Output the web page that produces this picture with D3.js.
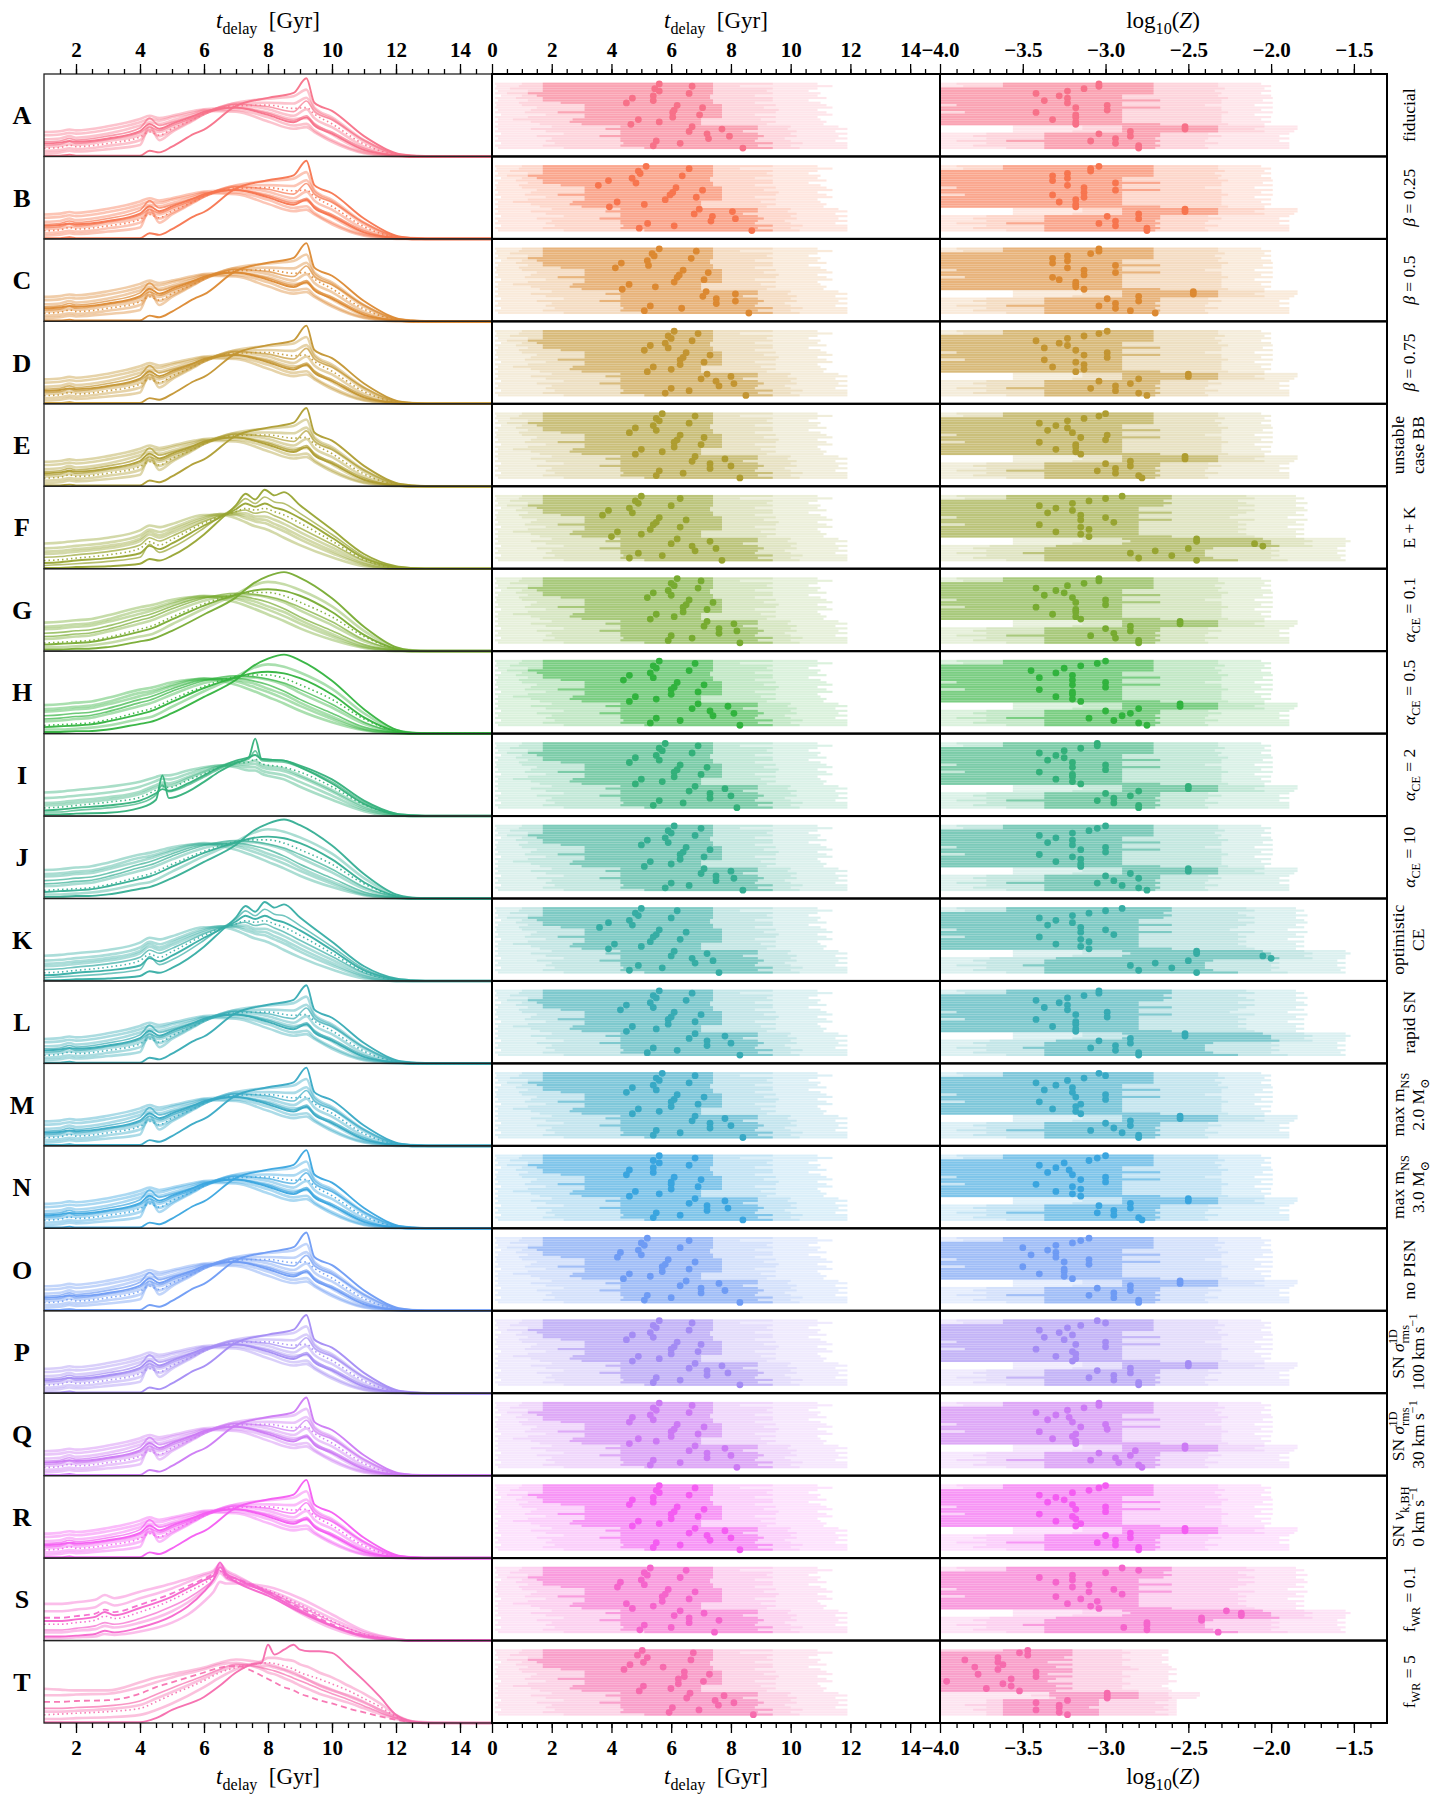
<!DOCTYPE html>
<html lang="en">
<head>
<meta charset="UTF-8" />
<title>Delay times and metallicities per model</title>
<script src="https://d3js.org/d3.v7.min.js"></script>
<style>
  body { margin: 0; background: #fff; }
  svg text { font-family: "Liberation Serif", "DejaVu Serif", serif; fill: #000; }
  .tick text { font-weight: bold; font-size: 21px; }
  .tick line { stroke: #000; stroke-width: 1.3; }
</style>
</head>
<body>
<svg width="1440" height="1800"></svg>
<script>
// ---------- data ----------
var rowKeys = ["A","B","C","D","E","F","G","H","I","J","K","L","M","N","O","P","Q","R","S","T"];

var rowLabels = [
  [[["fiducial"]]],
  [[["β","i"],[" = 0.25"]]],
  [[["β","i"],[" = 0.5"]]],
  [[["β","i"],[" = 0.75"]]],
  [[["unstable"]],[["case BB"]]],
  [[["E + K"]]],
  [[["α","i"],["CE","sub"],[" = 0.1"]]],
  [[["α","i"],["CE","sub"],[" = 0.5"]]],
  [[["α","i"],["CE","sub"],[" = 2"]]],
  [[["α","i"],["CE","sub"],[" = 10"]]],
  [[["optimistic"]],[["CE"]]],
  [[["rapid SN"]]],
  [[["max m"],["NS","sub"]],[["2.0 M"],["⊙","sub"]]],
  [[["max m"],["NS","sub"]],[["3.0 M"],["⊙","sub"]]],
  [[["no PISN"]]],
  [[["SN "],["σ","i"],["rms","sub"],["1D","sup"]],[["100 km s"],["−1","sup"]]],
  [[["SN "],["σ","i"],["rms","sub"],["1D","sup"]],[["30 km s"],["−1","sup"]]],
  [[["SN "],["v","i"],["k,BH","sub"]],[["0 km s"],["−1","sup"]]],
  [[["f"],["WR","sub"],[" = 0.1"]]],
  [[["f"],["WR","sub"],[" = 5"]]]
];

// tick labels
var tdelayTicksLeft = [2, 4, 6, 8, 10, 12, 14];
var tdelayTicksMid = [0, 2, 4, 6, 8, 10, 12, 14];
var logZTicks = [-4.0, -3.5, -3.0, -2.5, -2.0, -1.5];

// left panel: normalised delay-time distributions (shape families)
var peakTimes = [1, 1.5, 1.8, 2, 3, 4, 4.3, 4.6, 5, 5.7, 6, 7, 8, 8.8, 9.2, 9.45, 10, 11, 12, 12.5, 13, 15];
var peakCurves = [
  [0.01,0.01,0.02,0.01,0.01,0.01,0.07,0.05,0.12,0.28,0.33,0.62,0.72,0.78,0.96,0.66,0.56,0.25,0.04,0.01,0,0],
  [0.30,0.31,0.33,0.32,0.37,0.46,0.50,0.47,0.50,0.56,0.58,0.60,0.54,0.46,0.47,0.40,0.27,0.07,0.01,0,0,0],
  [0.26,0.27,0.29,0.28,0.33,0.42,0.46,0.44,0.48,0.54,0.57,0.57,0.48,0.38,0.40,0.32,0.20,0.05,0.01,0,0,0],
  [0.18,0.19,0.22,0.20,0.25,0.35,0.47,0.38,0.42,0.50,0.54,0.64,0.61,0.55,0.68,0.55,0.45,0.20,0.03,0.01,0,0],
  [0.10,0.11,0.14,0.12,0.16,0.24,0.30,0.26,0.34,0.46,0.52,0.62,0.63,0.59,0.60,0.52,0.40,0.15,0.02,0,0,0],
  [0.04,0.05,0.07,0.06,0.09,0.14,0.38,0.20,0.30,0.45,0.52,0.66,0.71,0.74,0.82,0.60,0.48,0.20,0.03,0.01,0,0],
  [0.14,0.15,0.18,0.16,0.21,0.29,0.36,0.32,0.38,0.48,0.53,0.60,0.53,0.44,0.50,0.40,0.30,0.10,0.01,0,0,0],
  [0.21,0.22,0.25,0.23,0.28,0.38,0.42,0.40,0.44,0.52,0.56,0.55,0.43,0.34,0.36,0.30,0.18,0.04,0,0,0,0],
  [0.12,0.13,0.15,0.14,0.19,0.26,0.33,0.30,0.36,0.47,0.52,0.63,0.58,0.50,0.58,0.47,0.36,0.12,0.02,0,0,0],
  [0.16,0.17,0.19,0.18,0.22,0.31,0.40,0.34,0.40,0.50,0.55,0.60,0.51,0.42,0.48,0.38,0.28,0.08,0.01,0,0,0],
  [0.07,0.08,0.10,0.09,0.13,0.20,0.32,0.25,0.32,0.46,0.52,0.65,0.66,0.65,0.72,0.58,0.46,0.18,0.02,0,0,0]
];
var smoothTimes = [1, 1.5, 2, 2.4, 3, 4, 4.3, 5, 6, 7, 7.5, 8, 8.5, 9, 10, 11, 12, 12.5, 13, 15];
var smoothCurves = [
  [0.02,0.02,0.03,0.03,0.05,0.12,0.14,0.25,0.45,0.66,0.82,0.92,0.97,0.90,0.65,0.30,0.05,0.01,0,0],
  [0.05,0.05,0.06,0.07,0.10,0.18,0.20,0.33,0.52,0.70,0.80,0.85,0.82,0.75,0.55,0.25,0.04,0.01,0,0],
  [0.10,0.11,0.12,0.13,0.17,0.27,0.30,0.42,0.58,0.70,0.72,0.72,0.68,0.60,0.42,0.18,0.03,0,0,0],
  [0.15,0.16,0.18,0.19,0.24,0.34,0.37,0.48,0.62,0.69,0.69,0.66,0.60,0.50,0.32,0.12,0.02,0,0,0],
  [0.22,0.23,0.25,0.26,0.31,0.42,0.45,0.55,0.66,0.68,0.65,0.60,0.52,0.42,0.25,0.08,0.01,0,0,0],
  [0.30,0.31,0.33,0.34,0.39,0.50,0.52,0.60,0.68,0.64,0.58,0.51,0.43,0.34,0.18,0.05,0.01,0,0,0],
  [0.35,0.36,0.38,0.39,0.44,0.54,0.56,0.63,0.67,0.60,0.53,0.45,0.37,0.28,0.14,0.04,0,0,0,0],
  [0.18,0.19,0.21,0.22,0.27,0.38,0.41,0.52,0.65,0.71,0.70,0.67,0.62,0.54,0.36,0.14,0.02,0,0,0],
  [0.08,0.09,0.10,0.11,0.15,0.24,0.27,0.39,0.56,0.69,0.74,0.76,0.74,0.68,0.48,0.20,0.03,0,0,0],
  [0.27,0.28,0.30,0.31,0.36,0.46,0.49,0.58,0.67,0.66,0.62,0.55,0.48,0.38,0.21,0.06,0.01,0,0,0]
];
var bumpTimes = [1, 1.5, 2, 3, 4, 4.3, 4.6, 5, 6, 6.5, 7, 7.3, 7.6, 7.9, 8.2, 8.5, 9, 10, 11, 12, 12.5, 13, 15];
var bumpCurves = [
  [0.01,0.01,0.02,0.03,0.06,0.12,0.10,0.16,0.42,0.60,0.78,0.92,0.85,0.97,0.90,0.94,0.78,0.48,0.18,0.03,0.01,0,0],
  [0.04,0.05,0.06,0.09,0.14,0.30,0.20,0.26,0.50,0.64,0.76,0.86,0.80,0.88,0.82,0.80,0.68,0.42,0.15,0.02,0,0,0],
  [0.10,0.11,0.13,0.17,0.25,0.33,0.29,0.36,0.56,0.64,0.70,0.74,0.72,0.74,0.70,0.66,0.56,0.34,0.11,0.01,0,0,0],
  [0.18,0.19,0.21,0.25,0.34,0.42,0.38,0.44,0.60,0.66,0.68,0.68,0.64,0.64,0.60,0.55,0.45,0.26,0.08,0.01,0,0,0],
  [0.25,0.26,0.28,0.32,0.41,0.48,0.45,0.50,0.64,0.67,0.66,0.62,0.58,0.56,0.51,0.46,0.36,0.19,0.05,0,0,0,0],
  [0.31,0.32,0.34,0.38,0.47,0.53,0.51,0.55,0.66,0.66,0.62,0.57,0.52,0.49,0.44,0.38,0.29,0.14,0.03,0,0,0,0],
  [0.14,0.15,0.17,0.21,0.29,0.38,0.34,0.40,0.58,0.65,0.70,0.72,0.68,0.70,0.65,0.60,0.50,0.30,0.10,0.01,0,0,0],
  [0.07,0.08,0.10,0.13,0.19,0.28,0.24,0.31,0.53,0.63,0.73,0.80,0.76,0.80,0.75,0.72,0.62,0.38,0.13,0.02,0,0,0],
  [0.21,0.22,0.24,0.28,0.37,0.45,0.41,0.47,0.62,0.67,0.67,0.65,0.61,0.60,0.55,0.50,0.40,0.22,0.06,0,0,0,0]
];
var spikeTimes = [1, 1.5, 2, 3, 4, 4.5, 4.7, 4.9, 5.5, 6, 6.5, 7, 7.4, 7.6, 7.8, 8.5, 9, 10, 11, 12, 12.5, 13, 15];
var spikeCurves = [
  [0.02,0.02,0.03,0.04,0.10,0.20,0.50,0.22,0.30,0.42,0.55,0.65,0.72,0.95,0.70,0.68,0.60,0.40,0.15,0.02,0,0,0],
  [0.05,0.05,0.07,0.10,0.16,0.26,0.38,0.30,0.38,0.48,0.58,0.66,0.70,0.80,0.68,0.66,0.60,0.42,0.17,0.03,0.01,0,0],
  [0.10,0.11,0.13,0.17,0.23,0.32,0.36,0.35,0.44,0.52,0.60,0.65,0.66,0.70,0.64,0.60,0.54,0.36,0.14,0.02,0,0,0],
  [0.16,0.17,0.19,0.23,0.30,0.38,0.41,0.40,0.48,0.55,0.61,0.64,0.63,0.64,0.60,0.55,0.48,0.30,0.10,0.01,0,0,0],
  [0.22,0.23,0.25,0.29,0.36,0.43,0.46,0.45,0.52,0.58,0.62,0.62,0.60,0.60,0.56,0.50,0.42,0.25,0.08,0.01,0,0,0],
  [0.29,0.30,0.32,0.36,0.42,0.48,0.50,0.50,0.56,0.60,0.62,0.60,0.56,0.56,0.52,0.45,0.36,0.20,0.06,0,0,0,0],
  [0.07,0.08,0.10,0.13,0.19,0.28,0.33,0.31,0.40,0.50,0.60,0.68,0.72,0.75,0.70,0.68,0.62,0.45,0.19,0.03,0.01,0,0],
  [0.13,0.14,0.16,0.20,0.27,0.35,0.38,0.37,0.46,0.54,0.61,0.66,0.66,0.68,0.63,0.58,0.50,0.32,0.12,0.02,0,0,0]
];
var earlyTimes = [1, 1.5, 2, 2.6, 2.9, 3.2, 4, 5, 5.5, 6, 6.3, 6.5, 6.7, 7, 8, 9, 10, 11, 12, 12.5, 13, 15];
var earlyCurves = [
  [0.05,0.05,0.06,0.08,0.12,0.10,0.16,0.30,0.42,0.60,0.75,0.90,0.80,0.72,0.55,0.35,0.18,0.06,0.01,0,0,0],
  [0.45,0.45,0.47,0.50,0.56,0.52,0.60,0.70,0.76,0.82,0.86,0.94,0.86,0.80,0.58,0.34,0.15,0.04,0.01,0,0,0],
  [0.36,0.36,0.38,0.41,0.47,0.43,0.52,0.64,0.72,0.80,0.84,0.92,0.84,0.78,0.60,0.38,0.18,0.05,0.01,0,0,0],
  [0.28,0.28,0.30,0.33,0.38,0.35,0.44,0.58,0.67,0.76,0.82,0.88,0.80,0.76,0.60,0.40,0.20,0.06,0.01,0,0,0],
  [0.20,0.20,0.22,0.25,0.30,0.27,0.35,0.50,0.60,0.70,0.78,0.85,0.78,0.74,0.62,0.44,0.24,0.08,0.01,0,0,0],
  [0.13,0.13,0.15,0.18,0.22,0.20,0.27,0.42,0.52,0.65,0.75,0.86,0.77,0.72,0.60,0.42,0.23,0.08,0.01,0,0,0],
  [0.24,0.24,0.26,0.29,0.35,0.31,0.40,0.54,0.64,0.74,0.80,0.96,0.82,0.76,0.58,0.37,0.18,0.05,0.01,0,0,0],
  [0.10,0.10,0.12,0.14,0.18,0.16,0.22,0.36,0.47,0.62,0.72,0.83,0.76,0.72,0.62,0.46,0.27,0.10,0.02,0,0,0],
  [0.03,0.03,0.04,0.05,0.08,0.07,0.11,0.22,0.32,0.48,0.60,0.72,0.70,0.70,0.66,0.52,0.32,0.12,0.02,0,0,0]
];
var broadTimes = [1, 1.5, 2, 3, 4, 4.5, 5, 6, 6.5, 7, 7.5, 7.8, 8, 8.2, 8.5, 8.8, 9, 9.3, 9.6, 10, 10.5, 11, 11.5, 12, 12.5, 13, 15];
var broadCurves = [
  [0.01,0.01,0.01,0.01,0.01,0.06,0.16,0.32,0.46,0.62,0.72,0.74,0.96,0.84,0.90,0.96,0.90,0.88,0.88,0.86,0.70,0.52,0.32,0.10,0.02,0,0],
  [0.42,0.41,0.40,0.40,0.50,0.56,0.60,0.68,0.74,0.78,0.76,0.74,0.72,0.70,0.66,0.62,0.58,0.52,0.46,0.40,0.34,0.26,0.16,0.08,0.02,0.01,0],
  [0.26,0.26,0.27,0.28,0.36,0.44,0.50,0.62,0.68,0.70,0.64,0.58,0.54,0.50,0.44,0.40,0.36,0.32,0.28,0.24,0.18,0.13,0.08,0.04,0.01,0,0],
  [0.10,0.11,0.12,0.14,0.18,0.26,0.35,0.52,0.62,0.68,0.72,0.73,0.74,0.73,0.70,0.66,0.62,0.58,0.54,0.48,0.40,0.30,0.20,0.08,0.02,0,0],
  [0.34,0.34,0.35,0.36,0.44,0.50,0.56,0.66,0.72,0.74,0.70,0.66,0.62,0.60,0.55,0.50,0.46,0.41,0.36,0.31,0.25,0.18,0.11,0.05,0.01,0,0],
  [0.18,0.18,0.19,0.21,0.27,0.35,0.43,0.58,0.66,0.72,0.70,0.68,0.66,0.64,0.60,0.55,0.52,0.47,0.42,0.36,0.29,0.21,0.13,0.06,0.01,0,0],
  [0.05,0.05,0.06,0.07,0.10,0.16,0.24,0.44,0.56,0.66,0.72,0.76,0.80,0.80,0.78,0.76,0.72,0.68,0.62,0.56,0.46,0.36,0.24,0.10,0.02,0,0],
  [0.14,0.14,0.15,0.17,0.22,0.30,0.38,0.55,0.64,0.70,0.72,0.70,0.70,0.68,0.65,0.60,0.57,0.52,0.47,0.41,0.33,0.25,0.16,0.07,0.01,0,0]
];
var rowCurveSet = ["peak","peak","peak","peak","peak","bump","smooth","smooth","spike","smooth",
                   "bump","peak","peak","peak","peak","peak","peak","peak","early","broad"];

// middle panel: per strip [outer lo, mid lo, inner lo, inner hi, mid hi, outer hi] in Gyr
var tdelayBands = [
  [0.1,1.0,1.7,7.4,9.4,10.9],[0.15,0.9,1.7,7.4,8.3,11.4],[0.1,0.6,1.7,7.4,9.4,10.9],[0.2,1.2,1.7,7.4,9.2,10.6],
  [0.1,0.5,1.2,7.4,9.4,11.0],[0.3,1.0,1.5,7.3,8.8,10.9],[0.1,0.8,1.7,7.3,9.4,11.2],[0.2,1.2,1.7,7.4,9.4,10.6],
  [0.1,0.9,2.3,7.4,8.8,11.0],[0.15,1.0,3.1,7.7,9.5,11.2],[0.1,1.5,3.1,7.7,9.1,11.4],[0.2,1.3,3.1,7.7,9.6,10.9],
  [0.1,1.1,2.2,7.7,9.5,11.2],[0.3,1.8,3.1,7.7,8.8,11.4],[0.1,1.2,3.1,7.7,9.5,10.9],[0.2,0.7,2.7,7.0,9.0,11.0],
  [0.1,1.3,2.6,7.0,9.5,11.2],[0.2,1.6,3.0,7.0,9.2,11.1],[0.1,2.0,4.3,8.9,10.0,11.6],[0.2,1.3,3.8,8.9,9.9,11.9],
  [0.1,1.8,4.3,8.4,10.2,11.5],[0.3,2.4,4.3,8.9,10.0,11.9],[0.1,1.5,3.6,9.1,10.2,11.6],[0.2,2.0,4.3,8.9,9.8,11.9],
  [0.1,1.8,4.3,8.8,10.0,11.5],[0.3,2.1,4.4,9.4,10.4,11.9],[0.1,1.7,4.3,8.9,10.0,11.9],[0.2,2.4,5.1,9.4,10.3,11.9]
];
// medians of t_delay (dots), one list per row
var tdelayMedians = [
  [5.6,6.7,5.45,5.6,6.6,5.4,4.7,5.4,4.5,6.2,7.05,6.1,6.05,6.95,6.05,4.9,5.6,4.65,6.7,7.7,6.6,7.2,7.95,7.25,5.5,6.3,5.4,8.4],
  [5.16,6.6,4.9,4.96,6.37,4.69,3.9,4.82,3.56,6.16,7.05,6.05,5.96,6.84,5.8,4.19,5.1,3.93,6.94,8.05,6.77,7.38,8.15,7.33,5.21,6.1,4.93,8.7],
  [5.6,6.84,5.36,5.43,6.67,5.2,4.33,5.24,4.13,6.4,7.24,6.27,6.2,7.1,6.1,4.59,5.47,4.36,7.17,8.15,7.06,7.51,8.15,7.51,5.3,6.35,5.1,8.6],
  [6.1,6.9,5.9,6.0,6.7,5.8,5.3,5.9,5.1,6.5,7.3,6.4,6.3,7.1,6.3,5.4,6.0,5.2,7.2,8.0,7.0,7.5,8.1,7.6,6.0,6.6,5.8,8.5],
  [5.7,6.8,5.5,5.6,6.6,5.4,4.8,5.5,4.6,6.3,7.1,6.2,6.1,7.0,6.1,5.0,5.7,4.8,6.8,7.8,6.7,7.3,8.0,7.3,5.6,6.4,5.5,8.3],
  [5.0,6.3,4.8,4.9,6.0,4.6,3.9,4.7,3.7,5.6,6.5,5.5,5.4,6.3,5.3,4.2,5.0,4.0,6.2,7.3,6.0,6.7,7.5,6.8,4.9,5.7,4.6,7.7],
  [6.2,7.0,6.0,6.1,6.9,5.9,5.4,6.0,5.2,6.6,7.4,6.5,6.4,7.2,6.4,5.5,6.1,5.3,7.2,8.1,7.1,7.6,8.2,7.6,6.0,6.7,5.9,8.3],
  [5.6,6.8,5.4,5.5,6.6,5.3,4.6,5.4,4.4,6.2,7.1,6.1,6.0,6.9,6.0,4.8,5.5,4.6,6.9,7.9,6.7,7.3,8.1,7.4,5.5,6.3,5.3,8.3],
  [5.8,6.9,5.6,5.7,6.7,5.5,4.8,5.6,4.6,6.3,7.2,6.2,6.1,7.0,6.1,5.0,5.7,4.8,6.8,7.8,6.6,7.3,8.0,7.3,5.6,6.4,5.4,8.2],
  [6.1,7.0,5.9,6.0,6.8,5.8,5.2,5.9,5.0,6.5,7.3,6.4,6.3,7.1,6.3,5.3,6.0,5.1,7.1,8.0,7.0,7.5,8.1,7.5,6.0,6.6,5.8,8.4],
  [5.0,6.2,4.8,4.9,6.0,4.6,3.9,4.7,3.6,5.6,6.5,5.5,5.4,6.3,5.3,4.1,5.0,3.9,6.1,7.2,6.0,6.7,7.4,6.8,4.9,5.7,4.6,7.6],
  [5.6,6.7,5.4,5.5,6.5,5.3,4.5,5.4,4.3,6.1,7.0,6.0,5.9,6.8,5.9,4.7,5.5,4.5,6.8,7.8,6.6,7.2,8.0,7.2,5.4,6.2,5.2,8.3],
  [5.7,6.8,5.5,5.6,6.6,5.4,4.7,5.5,4.5,6.2,7.1,6.1,6.0,6.9,6.0,4.9,5.6,4.7,6.8,7.8,6.7,7.3,8.0,7.3,5.5,6.3,5.4,8.4],
  [5.6,6.8,5.4,5.6,6.6,5.4,4.6,5.4,4.5,6.1,7.0,6.0,6.0,6.9,6.0,4.8,5.6,4.6,6.8,7.8,6.6,7.2,7.9,7.2,5.5,6.3,5.4,8.4],
  [5.2,6.6,5.0,5.1,6.3,4.9,4.3,5.0,4.2,5.9,6.8,5.8,5.7,6.6,5.7,4.6,5.3,4.4,6.5,7.6,6.3,7.0,7.8,7.0,5.2,6.0,5.1,8.3],
  [5.6,6.7,5.4,5.5,6.6,5.3,4.7,5.4,4.5,6.2,7.0,6.1,6.0,6.9,6.0,4.9,5.6,4.7,6.8,7.7,6.6,7.2,7.9,7.2,5.5,6.3,5.4,8.3],
  [5.6,6.7,5.4,5.5,6.6,5.3,4.7,5.4,4.6,6.2,7.1,6.1,6.0,6.9,6.0,4.9,5.5,4.6,6.8,7.8,6.6,7.2,8.0,7.2,5.4,6.3,5.3,8.2],
  [5.6,6.8,5.5,5.6,6.6,5.4,4.7,5.4,4.6,6.2,7.1,6.1,6.0,6.9,6.0,4.9,5.6,4.7,6.8,7.8,6.6,7.2,8.0,7.3,5.5,6.3,5.4,8.3],
  [5.3,6.5,5.1,5.2,6.3,5.0,4.3,5.1,4.2,5.9,6.8,5.8,5.7,6.6,5.7,4.5,5.4,4.7,6.3,7.1,6.1,6.6,7.6,6.6,5.1,6.0,4.95,7.45],
  [5.03,6.74,4.87,5.2,6.66,5.07,4.62,5.73,4.42,6.44,7.28,6.44,6.24,7.08,6.24,5.07,5.99,4.93,6.63,7.77,6.52,7.47,8.1,7.58,6.04,6.93,5.93,8.75]
];

// right panel: per strip bands in log10(Z)
var logZBandsStd = [
  [-4.0,-3.9,-3.62,-2.71,-2.32,-2.06],[-4.0,-3.86,-3.62,-2.71,-2.32,-2.0],[-4.0,-4.0,-4.0,-2.71,-2.28,-2.04],[-4.0,-4.0,-4.0,-2.71,-2.34,-2.0],
  [-4.0,-4.0,-4.0,-2.71,-2.3,-2.06],[-4.0,-4.0,-4.0,-2.9,-2.32,-2.0],[-4.0,-4.0,-4.0,-2.9,-2.26,-1.99],[-4.0,-4.0,-4.0,-2.67,-2.3,-2.05],
  [-4.0,-4.0,-4.0,-2.9,-2.3,-1.99],[-4.0,-4.0,-3.9,-2.9,-2.4,-2.1],[-4.0,-4.0,-4.0,-2.67,-2.3,-1.99],[-4.0,-4.0,-4.0,-2.9,-2.3,-2.06],
  [-4.0,-4.0,-3.85,-2.9,-2.26,-1.99],[-4.0,-4.0,-4.0,-2.9,-2.3,-2.1],[-4.0,-4.0,-4.0,-2.9,-2.3,-2.0],[-4.0,-4.0,-4.0,-2.9,-2.3,-2.06],
  [-4.0,-4.0,-4.0,-2.9,-2.3,-2.0],[-4.0,-4.0,-4.0,-2.67,-2.26,-2.04],[-3.56,-3.14,-2.9,-2.32,-2.04,-1.84],[-3.56,-3.14,-2.9,-2.32,-2.1,-1.84],
  [-3.56,-3.2,-2.9,-2.32,-2.04,-1.86],[-4.0,-3.72,-3.37,-2.67,-2.38,-1.89],[-4.0,-3.8,-3.37,-2.67,-2.3,-1.95],[-4.0,-3.72,-3.37,-2.7,-2.38,-1.89],
  [-4.0,-3.9,-3.6,-2.67,-2.4,-1.95],[-4.0,-3.72,-3.37,-2.7,-2.32,-1.89],[-4.0,-3.8,-3.37,-2.67,-2.4,-1.89],[-4.0,-3.6,-3.37,-2.7,-2.38,-1.89]
];
var logZBandsWide = [
  [-4.0,-3.9,-3.6,-2.6,-2.15,-1.85],[-4.0,-3.85,-3.6,-2.6,-2.1,-1.8],[-4.0,-4.0,-4.0,-2.65,-2.2,-1.85],[-4.0,-4.0,-4.0,-2.6,-2.15,-1.78],
  [-4.0,-4.0,-4.0,-2.65,-2.1,-1.85],[-4.0,-4.0,-4.0,-2.8,-2.2,-1.8],[-4.0,-4.0,-4.0,-2.8,-2.1,-1.78],[-4.0,-4.0,-4.0,-2.6,-2.15,-1.85],
  [-4.0,-4.0,-4.0,-2.8,-2.2,-1.8],[-4.0,-4.0,-3.9,-2.8,-2.25,-1.9],[-4.0,-4.0,-4.0,-2.6,-2.1,-1.78],[-4.0,-4.0,-4.0,-2.8,-2.2,-1.85],
  [-4.0,-4.0,-3.85,-2.8,-2.15,-1.8],[-4.0,-4.0,-4.0,-2.8,-2.2,-1.9],[-4.0,-4.0,-4.0,-2.8,-2.15,-1.8],[-4.0,-4.0,-4.0,-2.8,-2.2,-1.85],
  [-4.0,-4.0,-4.0,-2.8,-2.15,-1.8],[-4.0,-4.0,-4.0,-2.6,-2.1,-1.85],[-3.56,-3.14,-2.9,-2.05,-1.8,-1.55],[-3.56,-3.14,-2.85,-2.0,-1.75,-1.52],
  [-3.56,-3.2,-2.9,-2.0,-1.8,-1.55],[-4.0,-3.7,-3.3,-1.95,-1.75,-1.55],[-4.0,-3.8,-3.37,-2.35,-2.0,-1.6],[-4.0,-3.72,-3.37,-2.4,-1.95,-1.55],
  [-4.0,-3.9,-3.5,-2.4,-2.0,-1.6],[-4.0,-3.72,-3.37,-2.4,-1.95,-1.55],[-4.0,-3.8,-3.37,-2.35,-2.0,-1.58],[-4.0,-3.6,-3.37,-2.2,-1.9,-1.55]
];
var logZBandsLow = [
  [-4.0,-4.0,-3.62,-3.2,-2.9,-2.62],[-4.0,-4.0,-4.0,-3.2,-2.85,-2.62],[-4.0,-4.0,-4.0,-3.2,-2.9,-2.66],[-4.0,-4.0,-4.0,-3.25,-2.9,-2.62],
  [-4.0,-4.0,-4.0,-3.2,-2.85,-2.62],[-4.0,-4.0,-4.0,-3.35,-2.9,-2.66],[-4.0,-4.0,-4.0,-3.2,-2.9,-2.62],[-4.0,-4.0,-4.0,-3.3,-2.85,-2.6],
  [-4.0,-4.0,-4.0,-3.2,-2.8,-2.57],[-4.0,-4.0,-4.0,-3.2,-2.9,-2.62],[-4.0,-4.0,-4.0,-3.35,-2.9,-2.57],[-4.0,-4.0,-4.0,-3.2,-2.85,-2.62],
  [-4.0,-4.0,-4.0,-3.3,-2.9,-2.62],[-4.0,-4.0,-4.0,-3.35,-2.9,-2.57],[-4.0,-4.0,-4.0,-3.2,-2.85,-2.62],[-4.0,-4.0,-4.0,-3.3,-2.9,-2.66],
  [-4.0,-4.0,-4.0,-3.2,-2.9,-2.62],[-4.0,-4.0,-4.0,-3.3,-2.8,-2.6],[-4.0,-3.34,-3.34,-2.8,-2.62,-2.43],[-4.0,-3.45,-3.34,-2.8,-2.62,-2.43],
  [-4.0,-3.34,-3.3,-2.8,-2.6,-2.45],[-4.0,-3.72,-3.62,-3.04,-2.62,-2.57],[-4.0,-3.72,-3.62,-3.04,-2.7,-2.57],[-4.0,-3.85,-3.62,-3.04,-2.62,-2.57],
  [-4.0,-3.72,-3.62,-3.1,-2.65,-2.57],[-4.0,-3.8,-3.62,-3.04,-2.62,-2.57],[-4.0,-3.72,-3.62,-3.04,-2.7,-2.57],[-4.0,-3.72,-3.62,-3.04,-2.62,-2.57]
];
var rowLogZSet = ["std","std","std","std","std","wide","std","std","std","std",
                  "wide","wide","std","std","std","std","std","std","wide","low"];
var logZMedians = [
  [-3.04,-3.04,-3.13,-3.23,-3.42,-3.28,-3.23,-3.37,-3.23,-2.99,-3.18,-2.99,-3.42,-3.18,-3.18,-3.32,-3.18,-3.18,-2.52,-2.52,-2.85,-3.04,-2.85,-2.94,-3.09,-2.94,-2.8,-2.8],
  [-3.04,-3.09,-3.09,-3.23,-3.32,-3.23,-3.32,-2.94,-3.23,-3.13,-2.94,-3.13,-3.32,-3.13,-3.18,-3.28,-3.18,-3.18,-2.52,-2.52,-2.8,-2.99,-2.8,-2.94,-3.04,-2.94,-2.75,-2.75],
  [-3.04,-3.04,-3.09,-3.23,-3.32,-3.23,-3.32,-2.94,-3.23,-3.13,-2.94,-3.13,-3.32,-3.28,-3.18,-3.18,-3.18,-3.13,-2.47,-2.47,-2.8,-2.99,-2.8,-2.94,-3.04,-2.94,-2.85,-2.7],
  [-2.99,-3.04,-3.13,-3.23,-3.42,-3.28,-3.23,-3.37,-3.18,-2.99,-3.13,-2.99,-3.37,-3.18,-3.13,-3.32,-3.13,-3.18,-2.5,-2.5,-2.8,-3.04,-2.85,-2.94,-3.09,-2.94,-2.8,-2.75],
  [-3.0,-3.04,-3.13,-3.23,-3.4,-3.3,-3.23,-3.35,-3.2,-2.99,-3.15,-3.0,-3.4,-3.18,-3.18,-3.3,-3.18,-3.15,-2.52,-2.52,-2.85,-3.0,-2.85,-2.94,-3.05,-2.94,-2.8,-2.78],
  [-2.9,-3.0,-3.1,-3.2,-3.4,-3.3,-3.2,-3.35,-3.15,-3.0,-3.15,-2.95,-3.4,-3.15,-3.1,-3.3,-3.15,-3.1,-2.45,-2.45,-2.1,-2.05,-2.5,-2.7,-2.85,-2.6,-2.8,-2.45],
  [-3.04,-3.04,-3.13,-3.23,-3.42,-3.3,-3.25,-3.37,-3.2,-3.0,-3.18,-3.0,-3.42,-3.18,-3.18,-3.32,-3.18,-3.15,-2.55,-2.55,-2.85,-3.0,-2.85,-2.95,-3.09,-2.94,-2.8,-2.8],
  [-3.0,-3.05,-3.15,-3.25,-3.45,-3.3,-3.2,-3.4,-3.2,-3.0,-3.2,-3.0,-3.4,-3.2,-3.2,-3.3,-3.2,-3.15,-2.55,-2.55,-2.8,-3.0,-2.85,-2.9,-3.1,-2.95,-2.8,-2.75],
  [-3.05,-3.05,-3.15,-3.25,-3.4,-3.3,-3.25,-3.35,-3.2,-3.0,-3.2,-3.0,-3.4,-3.2,-3.2,-3.3,-3.2,-3.15,-2.5,-2.5,-2.8,-3.0,-2.85,-2.95,-3.05,-2.95,-2.8,-2.8],
  [-3.0,-3.05,-3.1,-3.2,-3.4,-3.3,-3.2,-3.35,-3.2,-3.0,-3.15,-3.0,-3.4,-3.2,-3.15,-3.3,-3.15,-3.15,-2.5,-2.5,-2.85,-3.0,-2.8,-2.95,-3.05,-2.9,-2.8,-2.75],
  [-2.9,-3.0,-3.1,-3.2,-3.4,-3.3,-3.2,-3.35,-3.15,-3.0,-3.15,-2.95,-3.4,-3.15,-3.1,-3.3,-3.15,-3.1,-2.45,-2.45,-2.05,-2.0,-2.5,-2.7,-2.85,-2.6,-2.8,-2.45],
  [-3.04,-3.04,-3.13,-3.23,-3.42,-3.28,-3.23,-3.37,-3.23,-2.99,-3.18,-2.99,-3.42,-3.18,-3.18,-3.32,-3.18,-3.18,-2.52,-2.52,-2.85,-3.04,-2.85,-2.94,-3.09,-2.94,-2.8,-2.8],
  [-3.04,-3.0,-3.13,-3.23,-3.42,-3.3,-3.2,-3.37,-3.2,-3.0,-3.18,-3.0,-3.4,-3.15,-3.18,-3.32,-3.18,-3.15,-2.55,-2.55,-2.85,-3.0,-2.85,-2.95,-3.09,-2.9,-2.8,-2.8],
  [-3.0,-3.05,-3.1,-3.25,-3.4,-3.3,-3.22,-3.35,-3.2,-3.0,-3.15,-3.0,-3.42,-3.2,-3.15,-3.3,-3.2,-3.15,-2.5,-2.5,-2.85,-3.04,-2.85,-2.95,-3.05,-2.95,-2.8,-2.78],
  [-3.1,-3.15,-3.2,-3.3,-3.5,-3.35,-3.3,-3.45,-3.3,-3.1,-3.25,-3.1,-3.5,-3.25,-3.25,-3.4,-3.25,-3.2,-2.55,-2.55,-2.85,-3.05,-2.85,-2.95,-3.1,-2.95,-2.8,-2.8],
  [-3.05,-3.0,-3.15,-3.23,-3.4,-3.28,-3.2,-3.37,-3.25,-3.0,-3.18,-3.0,-3.42,-3.2,-3.18,-3.3,-3.18,-3.2,-2.5,-2.5,-2.85,-3.05,-2.85,-2.95,-3.1,-2.95,-2.8,-2.8],
  [-3.04,-3.04,-3.13,-3.23,-3.42,-3.3,-3.22,-3.35,-3.2,-3.0,-3.15,-2.99,-3.4,-3.18,-3.2,-3.32,-3.18,-3.18,-2.52,-2.52,-2.82,-3.04,-2.85,-2.94,-3.09,-2.92,-2.8,-2.78],
  [-3.0,-3.04,-3.1,-3.2,-3.4,-3.3,-3.25,-3.35,-3.2,-3.0,-3.18,-3.0,-3.4,-3.2,-3.18,-3.3,-3.15,-3.18,-2.52,-2.52,-2.85,-3.0,-2.85,-2.94,-3.05,-2.94,-2.8,-2.8],
  [-2.9,-2.8,-3.0,-3.2,-3.4,-3.2,-3.3,-3.1,-3.2,-2.95,-3.1,-2.9,-3.3,-3.15,-3.05,-3.23,-3.09,-3.04,-2.27,-2.18,-2.18,-2.42,-2.42,-2.75,-2.75,-2.89,-2.75,-2.32],
  [-3.47,-3.52,-3.47,-3.65,-3.85,-3.65,-3.62,-3.79,-3.65,-3.42,-3.77,-3.42,-3.57,-3.96,-3.62,-3.57,-3.72,-3.52,-2.99,-2.99,-2.99,-3.23,-3.42,-3.28,-3.28,-3.42,-3.28,-3.23]
];

// ---------- styles ----------
var lineStyles = {
  dark:  { w: 1.9, o: 0.95, dash: null },
  mid:   { w: 1.6, o: 0.7,  dash: null },
  light: { w: 2.6, o: 0.42, dash: null },
  dot:   { w: 1.6, o: 0.9,  dash: "1.5,3" },
  dash:  { w: 1.8, o: 0.9,  dash: "6,4" }
};
var curveSets = {
  peak:   { t: peakTimes,   c: peakCurves,   s: ["dark","light","light","mid","dot","light","mid","light","light","dark","light"] },
  smooth: { t: smoothTimes, c: smoothCurves, s: ["dark","light","dot","light","mid","light","light","mid","dark","light"] },
  bump:   { t: bumpTimes,   c: bumpCurves,   s: ["dark","mid","dot","light","light","light","mid","dark","light"] },
  spike:  { t: spikeTimes,  c: spikeCurves,  s: ["dark","mid","dot","light","light","light","dark","light"] },
  early:  { t: earlyTimes,  c: earlyCurves,  s: ["dark","light","light","dash","dot","mid","dark","light","light"] },
  broad:  { t: broadTimes,  c: broadCurves,  s: ["dark","light","dash","dot","light","mid","light","light"] }
};
var logZSets = { std: logZBandsStd, wide: logZBandsWide, low: logZBandsLow };

// seaborn-style husl palette
function huslToHex(h, s, l) {
  var M = [[3.2406, -1.5372, -0.4986], [-0.9689, 1.8758, 0.0415], [0.0557, -0.2040, 1.0570]];
  var refU = 0.19784, refV = 0.46834, kappa = 903.3;
  var hrad = h * Math.PI / 180, sinH = Math.sin(hrad), cosH = Math.cos(hrad);
  var sub1 = Math.pow(l + 16, 3) / 1560896, sub2 = sub1 > 0.008856 ? sub1 : l / kappa;
  var maxC = Infinity;
  M.forEach(function (r) {
    var top = (0.99915 * r[0] + 1.05122 * r[1] + 1.14460 * r[2]) * sub2;
    var rb = 0.86330 * r[2] - 0.17266 * r[1], lb = 0.12949 * r[2] - 0.38848 * r[0];
    var bottom = (rb * sinH + lb * cosH) * sub2;
    [0, 1].forEach(function (t) {
      var C = l * (top - 1.05122 * t) / (bottom + 0.17266 * sinH * t);
      if (C > 0 && C < maxC) maxC = C;
    });
  });
  var C = maxC / 100 * s, U = C * cosH, V = C * sinH;
  var Y = l > 8 ? Math.pow((l + 16) / 116, 3) : l / kappa;
  var vu = U / (13 * l) + refU, vv = V / (13 * l) + refV;
  var X = -(9 * Y * vu) / ((vu - 4) * vv - vu * vv);
  var Z = (9 * Y - 15 * vv * Y - vv * X) / (3 * vv);
  var rgb = M.map(function (r) {
    var c = r[0] * X + r[1] * Y + r[2] * Z;
    var v = c <= 0.0031308 ? 12.92 * c : 1.055 * Math.pow(c, 1 / 2.4) - 0.055;
    return Math.round(Math.max(0, Math.min(1, v)) * 255);
  });
  return d3.rgb(rgb[0], rgb[1], rgb[2]).formatHex();
}
var colors = rowKeys.map(function (k, i) {
  return huslToHex(((i / rowKeys.length + 0.01) % 1) * 359, 89.1, 64.35);
});

// ---------- layout ----------
var svg = d3.select("svg");
var top0 = 74, bottom0 = 1723;
var rowH = (bottom0 - top0) / rowKeys.length;

var xLeft = d3.scaleLinear().domain([1, 15]).range([44, 492]);
var xMid = d3.scaleLinear().domain([0, 15]).range([492, 940]);
var xRight = d3.scaleLinear().domain([-4, -1.3]).range([940, 1387]);

function rich(textSel, pieces, fs) {
  var shift = { sub: 0.28 * fs, sup: -0.42 * fs };
  pieces.forEach(function (p, k) {
    var st = p[1] || "";
    var prev = k > 0 ? (pieces[k - 1][1] || "") : "";
    var dy = (shift[st] || 0) - (shift[prev] || 0);
    var ts = textSel.append("tspan").text(p[0]).attr("dy", dy);
    if (st === "sub" || st === "sup") ts.attr("font-size", fs * 0.7);
    if (st === "i") ts.attr("font-style", "italic");
    if (st === "sup" && prev === "sub") ts.attr("dx", -pieces[k - 1][0].length * 0.36 * fs);
  });
}

var nStrips = tdelayBands.length;
var bandOpacity = [0.18, 0.14, 0.5];

rowKeys.forEach(function (key, i) {
  var y0 = top0 + i * rowH, y1 = y0 + rowH;
  var col = colors[i];
  var g = svg.append("g");

  // left: distributions
  var set = curveSets[rowCurveSet[i]];
  var y = d3.scaleLinear().domain([0, 1]).range([y1, y0 + 1]);
  var line = d3.line()
    .curve(d3.curveMonotoneX)
    .x(function (d) { return xLeft(d[0]); })
    .y(function (d) { return y(d[1]); });
  var order = d3.range(set.c.length).sort(function (a, b) {
    return (set.s[a] === "light" ? 0 : 1) - (set.s[b] === "light" ? 0 : 1);
  });
  order.forEach(function (j) {
    var st = lineStyles[set.s[j]];
    g.append("path")
      .attr("d", line(set.t.map(function (t, k) { return [t, set.c[j][k]]; })))
      .attr("fill", "none")
      .attr("stroke", col)
      .attr("stroke-width", st.w)
      .attr("stroke-opacity", st.o)
      .attr("stroke-linejoin", "round")
      .attr("stroke-dasharray", st.dash);
  });

  // strips for middle and right panels
  var ys = d3.scaleBand().domain(d3.range(nStrips)).range([y0 + 8.7, y0 + 75.3]);
  function strips(x, bands, medians) {
    bands.forEach(function (b, s) {
      [[b[0], b[5]], [b[1], b[4]], [b[2], b[3]]].forEach(function (iv, lev) {
        g.append("rect")
          .attr("x", x(iv[0]))
          .attr("width", Math.max(0, x(iv[1]) - x(iv[0])))
          .attr("y", ys(s))
          .attr("height", ys.bandwidth() - 0.25)
          .attr("fill", col)
          .attr("fill-opacity", bandOpacity[lev]);
      });
    });
    g.selectAll(null).data(medians).enter().append("circle")
      .attr("cx", function (d) { return x(d); })
      .attr("cy", function (d, s) { return ys(s) + ys.bandwidth() / 2; })
      .attr("r", 3.4)
      .attr("fill", col);
  }
  strips(xMid, tdelayBands, tdelayMedians[i]);
  strips(xRight, logZSets[rowLogZSet[i]], logZMedians[i]);

  // frames
  g.append("rect").attr("x", 44).attr("y", y0).attr("width", 448).attr("height", rowH)
    .attr("fill", "none").attr("stroke", "#222").attr("stroke-width", 1.3);
  [[492, 448], [940, 447]].forEach(function (f) {
    g.append("rect").attr("x", f[0]).attr("y", y0).attr("width", f[1]).attr("height", rowH)
      .attr("fill", "none").attr("stroke", "#000").attr("stroke-width", 2);
  });

  // row letter
  svg.append("text").attr("x", 22).attr("y", y0 + rowH / 2 + 9)
    .attr("text-anchor", "middle").attr("font-size", 26).attr("font-weight", "bold")
    .text(key);

  // model label
  var lines = rowLabels[i];
  lines.forEach(function (pieces, li) {
    var lx = lines.length === 1 ? 1415 : (li === 0 ? 1404 : 1424);
    var t = svg.append("text")
      .attr("transform", "translate(" + lx + "," + (y0 + rowH / 2) + ") rotate(-90)")
      .attr("text-anchor", "middle").attr("font-size", 17.5).attr("dy", 6);
    rich(t, pieces, 17.5);
  });
});

// ---------- axes ----------
function axis(scale, yPos, isTop, majors, minors, fmt) {
  var make = isTop ? d3.axisTop : d3.axisBottom;
  svg.append("g").attr("transform", "translate(0," + yPos + ")")
    .call(make(scale).tickValues(minors).tickSize(5).tickFormat(""))
    .call(function (g) { g.select(".domain").remove(); });
  svg.append("g").attr("transform", "translate(0," + yPos + ")")
    .call(make(scale).tickValues(majors).tickSize(10).tickPadding(7).tickFormat(fmt))
    .call(function (g) { g.select(".domain").remove(); });
}
var fmtInt = d3.format("d"), fmtZ = d3.format(".1f");
[true, false].forEach(function (isTop) {
  var yPos = isTop ? top0 : bottom0;
  axis(xLeft, yPos, isTop, tdelayTicksLeft, d3.range(1.5, 15, 0.5), fmtInt);
  axis(xMid, yPos, isTop, tdelayTicksMid, d3.range(0.5, 15, 0.5), fmtInt);
  axis(xRight, yPos, isTop, logZTicks, d3.range(-3.9, -1.3, 0.1), fmtZ);
});

// axis titles
var tdelayTitle = [["t", "i"], ["delay", "sub"], ["  [Gyr]", ""]];
var logZTitle = [["log", ""], ["10", "sub"], ["(", ""], ["Z", "i"], [")", ""]];
[[268, tdelayTitle], [716, tdelayTitle], [1163, logZTitle]].forEach(function (tt) {
  [28, 1784].forEach(function (yy) {
    var t = svg.append("text").attr("x", tt[0]).attr("y", yy)
      .attr("text-anchor", "middle").attr("font-size", 23)
      .attr("xml:space", "preserve");
    rich(t, tt[1], 23);
  });
});
</script>
</body>
</html>
